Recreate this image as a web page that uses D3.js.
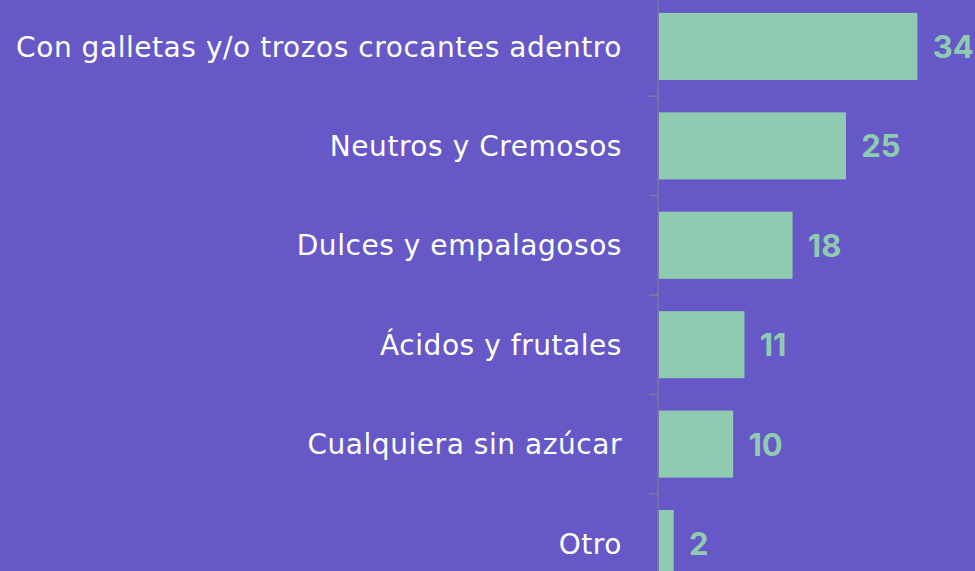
<!DOCTYPE html>
<html>
<head>
<script src="https://d3js.org/d3.v7.min.js"></script>
<style>
  body { margin: 0; background: #6659c7; }
</style>
</head>
<body>
<script>
// survey answers (%), sorted largest first; labels show the rounded value
const categories = [
    "Con galletas y/o trozos crocantes adentro",
    "Neutros y Cremosos",
    "Dulces y empalagosos",
    "Ácidos y frutales",
    "Cualquiera sin azúcar",
    "Otro"
];
const values = [34.4, 24.9, 17.8, 11.4, 9.9, 2.0];
const valueLabels = ["34", "25", "18", "11", "10", "2"];

const width = 975;
const height = 571;
const axisX = 658;

const svg = d3.select("body").append("svg")
    .attr("width", width)
    .attr("height", height)
    .style("display", "block");

svg.append("rect")
    .attr("width", width)
    .attr("height", height)
    .attr("fill", "#6659c7");

// bands run past the bottom edge, the last bar is cut off like in the original
const y = d3.scaleBand()
    .domain(categories)
    .range([-3, 593])
    .paddingInner(0.325)
    .paddingOuter(0.16);

const x = d3.scaleLinear()
    .domain([0, 34.4])
    .range([axisX, 916.7]);

const data = categories.map((c, i) => ({ name: c, value: values[i], label: valueLabels[i] }));

svg.selectAll(".bar")
    .data(data)
    .enter().append("rect")
    .attr("x", x(0) + 0.7)
    .attr("y", d => y(d.name))
    .attr("width", d => x(d.value) - x(0))
    .attr("height", y.bandwidth())
    .attr("fill", "#8fcbb1");

// axis line + ticks between bands
const g = svg.append("g");
g.append("line")
    .attr("x1", axisX).attr("x2", axisX)
    .attr("y1", 0).attr("y2", height)
    .attr("stroke", "#7f7f8c")
    .attr("stroke-width", 1.3);

const step = y.step();
const bounds = d3.range(1, categories.length).map(i => y(categories[i]) - y.paddingInner() * step / 2);
g.selectAll(".tick")
    .data(bounds)
    .enter().append("line")
    .attr("x1", axisX - 9).attr("x2", axisX)
    .attr("y1", d => d).attr("y2", d => d)
    .attr("stroke", "#7f7f8c")
    .attr("stroke-width", 1.5);

svg.selectAll(".label")
    .data(data)
    .enter().append("text")
    .attr("x", 622)
    .attr("y", d => y(d.name) + y.bandwidth() / 2)
    .attr("dy", "0.36em")
    .attr("text-anchor", "end")
    .attr("fill", "#ffffff")
    .style("font-family", "'DejaVu Sans', sans-serif")
    .style("font-size", "28px")
    .style("letter-spacing", "0.55px")
    .text(d => d.name);

svg.selectAll(".value")
    .data(data)
    .enter().append("text")
    .attr("x", d => x(d.value) + 16)
    .attr("y", d => y(d.name) + y.bandwidth() / 2)
    .attr("dy", "0.37em")
    .attr("fill", "#8fcbb1")
    .style("font-family", "Inter, sans-serif")
    .style("font-weight", "bold")
    .style("font-size", "31px")
    .text(d => d.label);
</script>
</body>
</html>
